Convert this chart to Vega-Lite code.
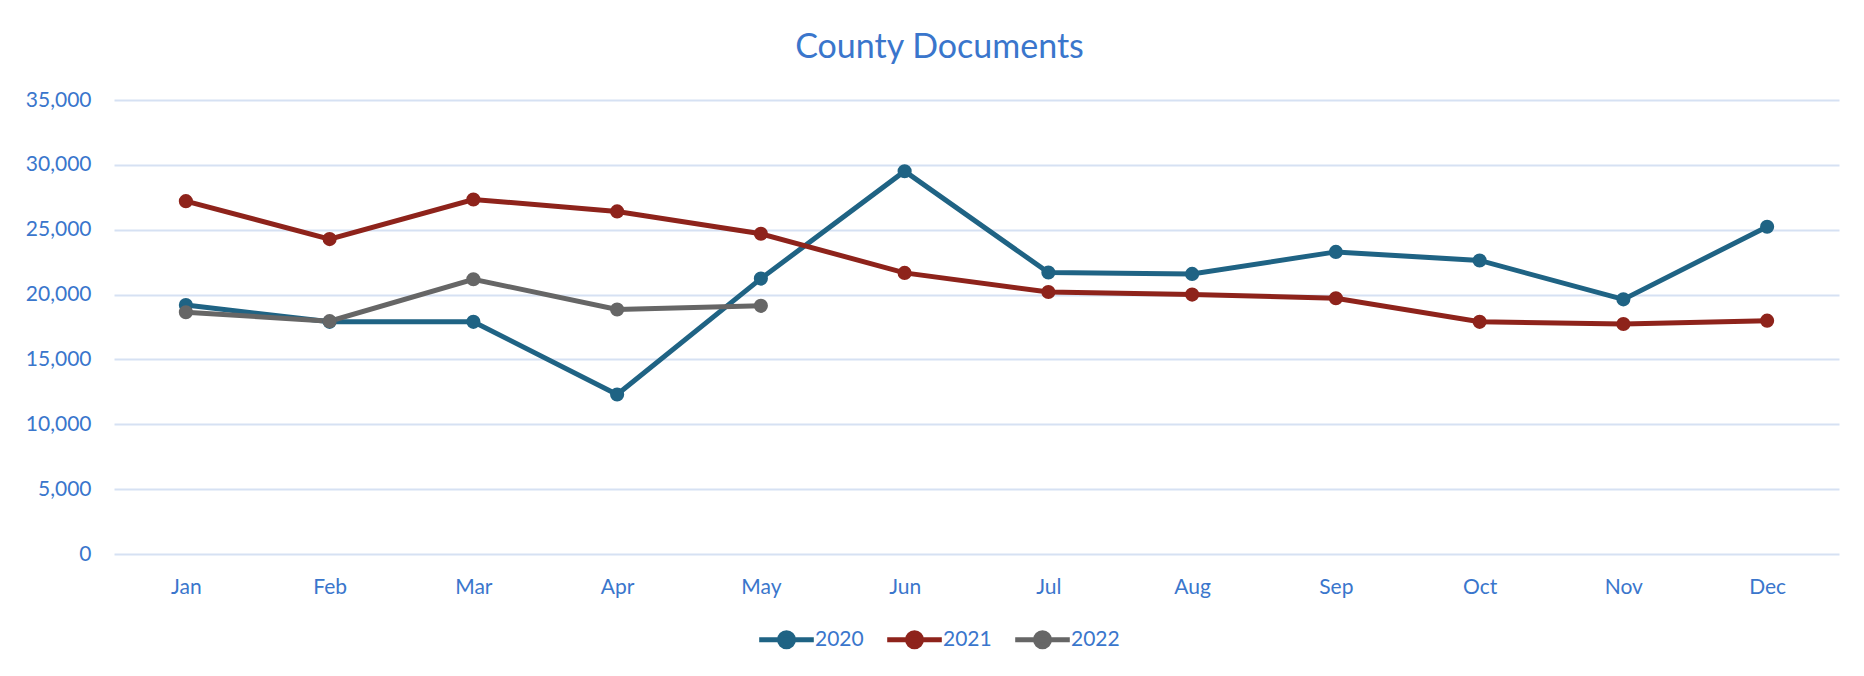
{
  "$schema": "https://vega.github.io/schema/vega-lite/v6.json",
  "autosize": "none",
  "width": 1725,
  "height": 454,
  "padding": {"left": 114, "top": 100, "right": 25, "bottom": 122},
  "background": "white",
  "title": {
    "text": "County Documents",
    "anchor": "middle",
    "frame": "group",
    "dx": -37,
    "offset": -3,
    "baseline": "alphabetic",
    "font": "Lato",
    "fontSize": 34,
    "fontWeight": "normal",
    "color": "#3A76CC"
  },
  "data": {
    "values": [
      {"month": "Jan", "year": "2020", "docs": 19200},
      {"month": "Feb", "year": "2020", "docs": 17900},
      {"month": "Mar", "year": "2020", "docs": 17900},
      {"month": "Apr", "year": "2020", "docs": 12300},
      {"month": "May", "year": "2020", "docs": 21230},
      {"month": "Jun", "year": "2020", "docs": 29510},
      {"month": "Jul", "year": "2020", "docs": 21700},
      {"month": "Aug", "year": "2020", "docs": 21590},
      {"month": "Sep", "year": "2020", "docs": 23290},
      {"month": "Oct", "year": "2020", "docs": 22630},
      {"month": "Nov", "year": "2020", "docs": 19630},
      {"month": "Dec", "year": "2020", "docs": 25230},
      {"month": "Jan", "year": "2021", "docs": 27200},
      {"month": "Feb", "year": "2021", "docs": 24280},
      {"month": "Mar", "year": "2021", "docs": 27330},
      {"month": "Apr", "year": "2021", "docs": 26410},
      {"month": "May", "year": "2021", "docs": 24690},
      {"month": "Jun", "year": "2021", "docs": 21670},
      {"month": "Jul", "year": "2021", "docs": 20200},
      {"month": "Aug", "year": "2021", "docs": 20000},
      {"month": "Sep", "year": "2021", "docs": 19720},
      {"month": "Oct", "year": "2021", "docs": 17900},
      {"month": "Nov", "year": "2021", "docs": 17730},
      {"month": "Dec", "year": "2021", "docs": 17990},
      {"month": "Jan", "year": "2022", "docs": 18640},
      {"month": "Feb", "year": "2022", "docs": 17950},
      {"month": "Mar", "year": "2022", "docs": 21180},
      {"month": "Apr", "year": "2022", "docs": 18850},
      {"month": "May", "year": "2022", "docs": 19130}
    ]
  },
  "mark": {
    "type": "line",
    "strokeWidth": 5,
    "point": {"filled": true, "size": 200, "opacity": 1}
  },
  "encoding": {
    "x": {
      "field": "month",
      "type": "ordinal",
      "sort": ["Jan", "Feb", "Mar", "Apr", "May", "Jun", "Jul", "Aug", "Sep", "Oct", "Nov", "Dec"],
      "scale": {"padding": 0.5},
      "axis": {
        "title": null,
        "labelAngle": 0,
        "domain": false,
        "ticks": false,
        "grid": false,
        "labelPadding": 22,
        "labelFont": "Lato",
        "labelFontSize": 21,
        "labelColor": "#3A76CC"
      }
    },
    "y": {
      "field": "docs",
      "type": "quantitative",
      "scale": {"domain": [0, 35000], "nice": false},
      "axis": {
        "title": null,
        "values": [0, 5000, 10000, 15000, 20000, 25000, 30000, 35000],
        "format": ",d",
        "domain": false,
        "ticks": false,
        "grid": true,
        "gridColor": "#D6E1F3",
        "gridWidth": 2,
        "labelPadding": 23,
        "labelFont": "Lato",
        "labelFontSize": 21,
        "labelColor": "#3A76CC"
      }
    },
    "color": {
      "field": "year",
      "type": "nominal",
      "scale": {"domain": ["2020", "2021", "2022"], "range": ["#1F6384", "#8E231B", "#666666"]},
      "legend": {
        "title": null,
        "orient": "none",
        "direction": "horizontal",
        "legendX": 662,
        "legendY": 529,
        "symbolType": "M-3.9,0L3.9,0M1,0A1,1,0,1,1,-1,0A1,1,0,1,1,1,0Z",
        "symbolSize": 196,
        "symbolStrokeWidth": 5,
        "symbolOpacity": 1,
        "labelOffset": 18,
        "columnPadding": 13,
        "labelFont": "Lato",
        "labelFontSize": 21,
        "labelColor": "#3A76CC"
      }
    }
  },
  "config": {
    "view": {"stroke": null}
  }
}
